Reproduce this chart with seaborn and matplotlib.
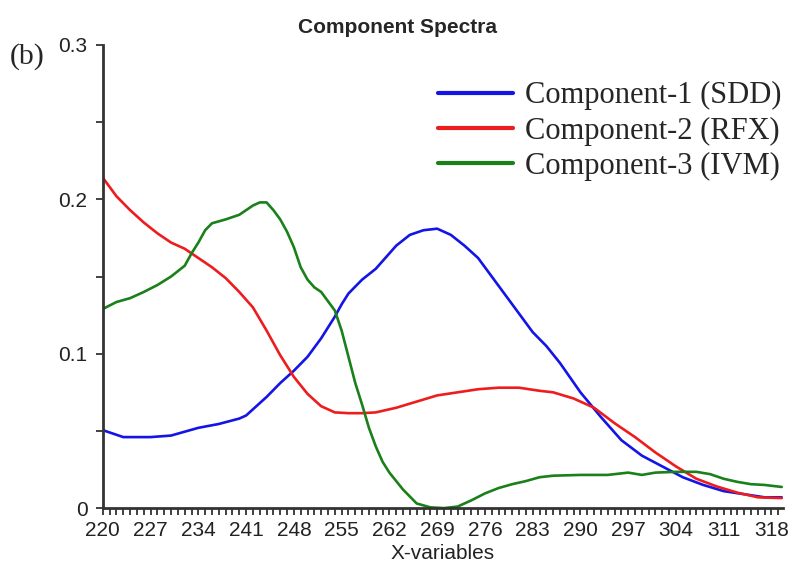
import matplotlib
matplotlib.use("Agg")
import matplotlib.pyplot as plt
from matplotlib.ticker import MultipleLocator, FixedLocator
import seaborn as sns
import pandas as pd

# values
x_sdd = [220, 223, 227, 230, 234, 237, 240, 241, 244, 246, 248, 250, 252, 254, 255, 256, 258,
         260, 261, 263, 265, 267, 269, 271, 273, 275, 277, 280, 283, 285, 287, 290, 293, 296,
         299, 302, 305, 308, 311, 314, 317, 319.5]
y_sdd = [0.0505, 0.046, 0.046, 0.047, 0.052, 0.0545, 0.058, 0.060, 0.072, 0.081, 0.089, 0.098,
         0.110, 0.124, 0.132, 0.139, 0.148, 0.155, 0.160, 0.170, 0.177, 0.180, 0.181, 0.177,
         0.170, 0.162, 0.150, 0.132, 0.114, 0.105, 0.094, 0.075, 0.059, 0.044, 0.034, 0.027,
         0.020, 0.015, 0.011, 0.009, 0.007, 0.007]

x_rfx = [220, 222, 224, 226, 228, 230, 232, 234, 236, 238, 240, 242, 244, 246, 248, 250, 252,
         254, 256, 258, 260, 263, 266, 269, 272, 275, 278, 281, 284, 286, 289, 292, 295, 298,
         301, 304, 307, 310, 313, 316, 319.5]
y_rfx = [0.214, 0.202, 0.193, 0.185, 0.178, 0.172, 0.168, 0.162, 0.156, 0.149, 0.140, 0.130,
         0.115, 0.099, 0.085, 0.074, 0.066, 0.062, 0.0615, 0.0615, 0.062, 0.065, 0.069, 0.073,
         0.075, 0.077, 0.078, 0.078, 0.076, 0.075, 0.071, 0.065, 0.055, 0.046, 0.036, 0.027,
         0.019, 0.014, 0.010, 0.007, 0.0065]

x_ivm = [220, 222, 224, 226, 228, 230, 232, 233, 234, 235, 236, 238, 240, 242, 243, 244, 245,
         246, 247, 248, 249, 250, 251, 252, 254, 255, 256, 257, 258, 259, 260, 261, 262, 264,
         266, 268, 270, 272, 274, 276, 278, 280, 282, 284, 286, 290, 294, 297, 299, 301, 304,
         307, 309, 311, 313, 315, 317, 319.5]
y_ivm = [0.129, 0.1335, 0.136, 0.140, 0.1445, 0.150, 0.157, 0.165, 0.172, 0.180, 0.1845, 0.187,
         0.190, 0.196, 0.198, 0.198, 0.193, 0.187, 0.179, 0.169, 0.156, 0.148, 0.143, 0.140,
         0.128, 0.115, 0.098, 0.081, 0.067, 0.052, 0.040, 0.030, 0.023, 0.012, 0.003, 0.0005,
         0.0, 0.001, 0.005, 0.0095, 0.013, 0.0155, 0.0175, 0.020, 0.021, 0.0215, 0.0215, 0.023,
         0.0215, 0.023, 0.0235, 0.0235, 0.022, 0.019, 0.017, 0.0155, 0.015, 0.0137]

names = ["Component-1 (SDD)", "Component-2 (RFX)", "Component-3 (IVM)"]
colors = ["#1414e6", "#ee1c1c", "#1a801a"]
x_ticks = list(range(220, 319, 7))
y_ticks = [0, 0.1, 0.2, 0.3]

sns.set_style("ticks")
plt.rcParams['font.family'] = ['Liberation Sans', 'DejaVu Sans']

fig = plt.figure(figsize=(7.91, 5.69), dpi=100)
ax = fig.add_axes([0.130, 0.107, 0.860, 0.814])

series = [(x_sdd, y_sdd), (x_rfx, y_rfx), (x_ivm, y_ivm)]
for (xs, ys), name, col in zip(series, names, colors):
    df = pd.DataFrame({"x": xs, "y": ys})
    sns.lineplot(data=df, x="x", y="y", ax=ax, color=col, lw=1.9, label=name,
                 estimator=None, sort=False)

ax.set_xlim(220, 319.7)
ax.set_ylim(0, 0.3)
ax.xaxis.set_major_locator(FixedLocator(x_ticks))
ax.xaxis.set_minor_locator(MultipleLocator(1))
ax.yaxis.set_major_locator(FixedLocator(y_ticks))
ax.yaxis.set_minor_locator(MultipleLocator(0.05))
ax.set_yticklabels(["0", "0.1", "0.2", "0.3"])
ax.tick_params(which="both", direction="out", length=5, width=1.3, color="#333333",
               labelsize=15, labelcolor="#222222")
ax.tick_params(axis="x", which="both", pad=4)
ax.tick_params(axis="y", which="both", pad=6)
sns.despine(ax=ax)
for s in ["left", "bottom"]:
    ax.spines[s].set_linewidth(2)
    ax.spines[s].set_color("#333333")

ax.set_xlabel("X-variables", fontsize=15, labelpad=3.5, color="#222222")
ax.set_ylabel("")

fig.text(0.502, 0.952, "Component Spectra", ha="center", va="center",
         fontsize=15, fontweight="bold")
fig.text(0.012, 0.900, "(b)", ha="left", va="center", fontsize=21.5,
         family="Liberation Serif")

leg = ax.legend(loc="upper right", bbox_to_anchor=(1.016, 0.948), frameon=False,
                prop={"family": "Liberation Serif", "size": 22},
                handlelength=2.45, handletextpad=0.4, labelspacing=0.2,
                borderaxespad=0)
for h in leg.get_lines():
    h.set_linewidth(3)

fig.savefig("out.png", dpi=100)
